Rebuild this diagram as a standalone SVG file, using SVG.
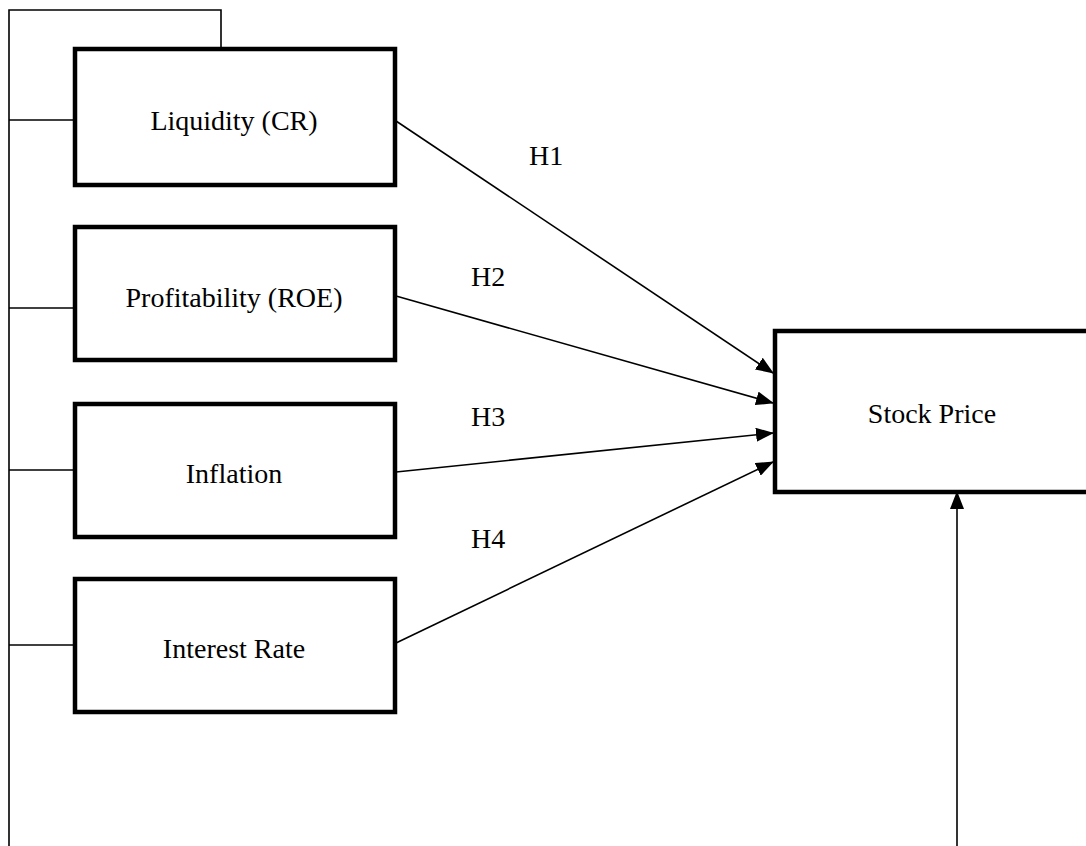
<svg xmlns="http://www.w3.org/2000/svg" width="1086" height="846" viewBox="0 0 1086 846">
<style>
.box{fill:#fff;stroke:#000;stroke-width:4.5}
.ln{fill:none;stroke:#000;stroke-width:1.6}
.t{font-family:"Liberation Serif",serif;font-size:28px;fill:#000;text-anchor:middle}
.h{font-family:"Liberation Serif",serif;font-size:28px;fill:#000}
</style>
<defs>
<marker id="ah" markerUnits="userSpaceOnUse" markerWidth="18" markerHeight="14" refX="17" refY="7" orient="auto">
<path d="M0,0 L18,7 L0,14 Z" fill="#000"/>
</marker>
</defs>
<rect width="1086" height="846" fill="#fff"/>
<g id="connectors">
<polyline class="ln" points="9,846 9,10 221,10 221,48"/>
<line class="ln" x1="9" y1="120" x2="74" y2="120"/>
<line class="ln" x1="9" y1="308" x2="74" y2="308"/>
<line class="ln" x1="9" y1="470" x2="74" y2="470"/>
<line class="ln" x1="9" y1="645" x2="74" y2="645"/>
<line class="ln" x1="396" y1="121" x2="773" y2="373" marker-end="url(#ah)"/>
<line class="ln" x1="396" y1="296" x2="773" y2="403" marker-end="url(#ah)"/>
<line class="ln" x1="396" y1="472" x2="773" y2="433" marker-end="url(#ah)"/>
<line class="ln" x1="396" y1="643" x2="773" y2="462" marker-end="url(#ah)"/>
<line class="ln" x1="957" y1="846" x2="957" y2="492" marker-end="url(#ah)"/>
<text class="h" x="529" y="165">H1</text>
<text class="h" x="471" y="286">H2</text>
<text class="h" x="471" y="426">H3</text>
<text class="h" x="471" y="548">H4</text>
</g>
<g id="liquidity">
<rect class="box" x="75" y="49" width="320" height="136"/>
<text class="t" x="234" y="130">Liquidity (CR)</text>
</g>
<g id="profitability">
<rect class="box" x="75" y="227" width="320" height="133"/>
<text class="t" x="234" y="307">Profitability (ROE)</text>
</g>
<g id="inflation">
<rect class="box" x="75" y="404" width="320" height="133"/>
<text class="t" x="234" y="483">Inflation</text>
</g>
<g id="interest">
<rect class="box" x="75" y="579" width="320" height="133"/>
<text class="t" x="234" y="658">Interest Rate</text>
</g>
<g id="stockprice">
<rect class="box" x="775" y="331" width="320" height="161"/>
<text class="t" x="932" y="423">Stock Price</text>
</g>
</svg>
